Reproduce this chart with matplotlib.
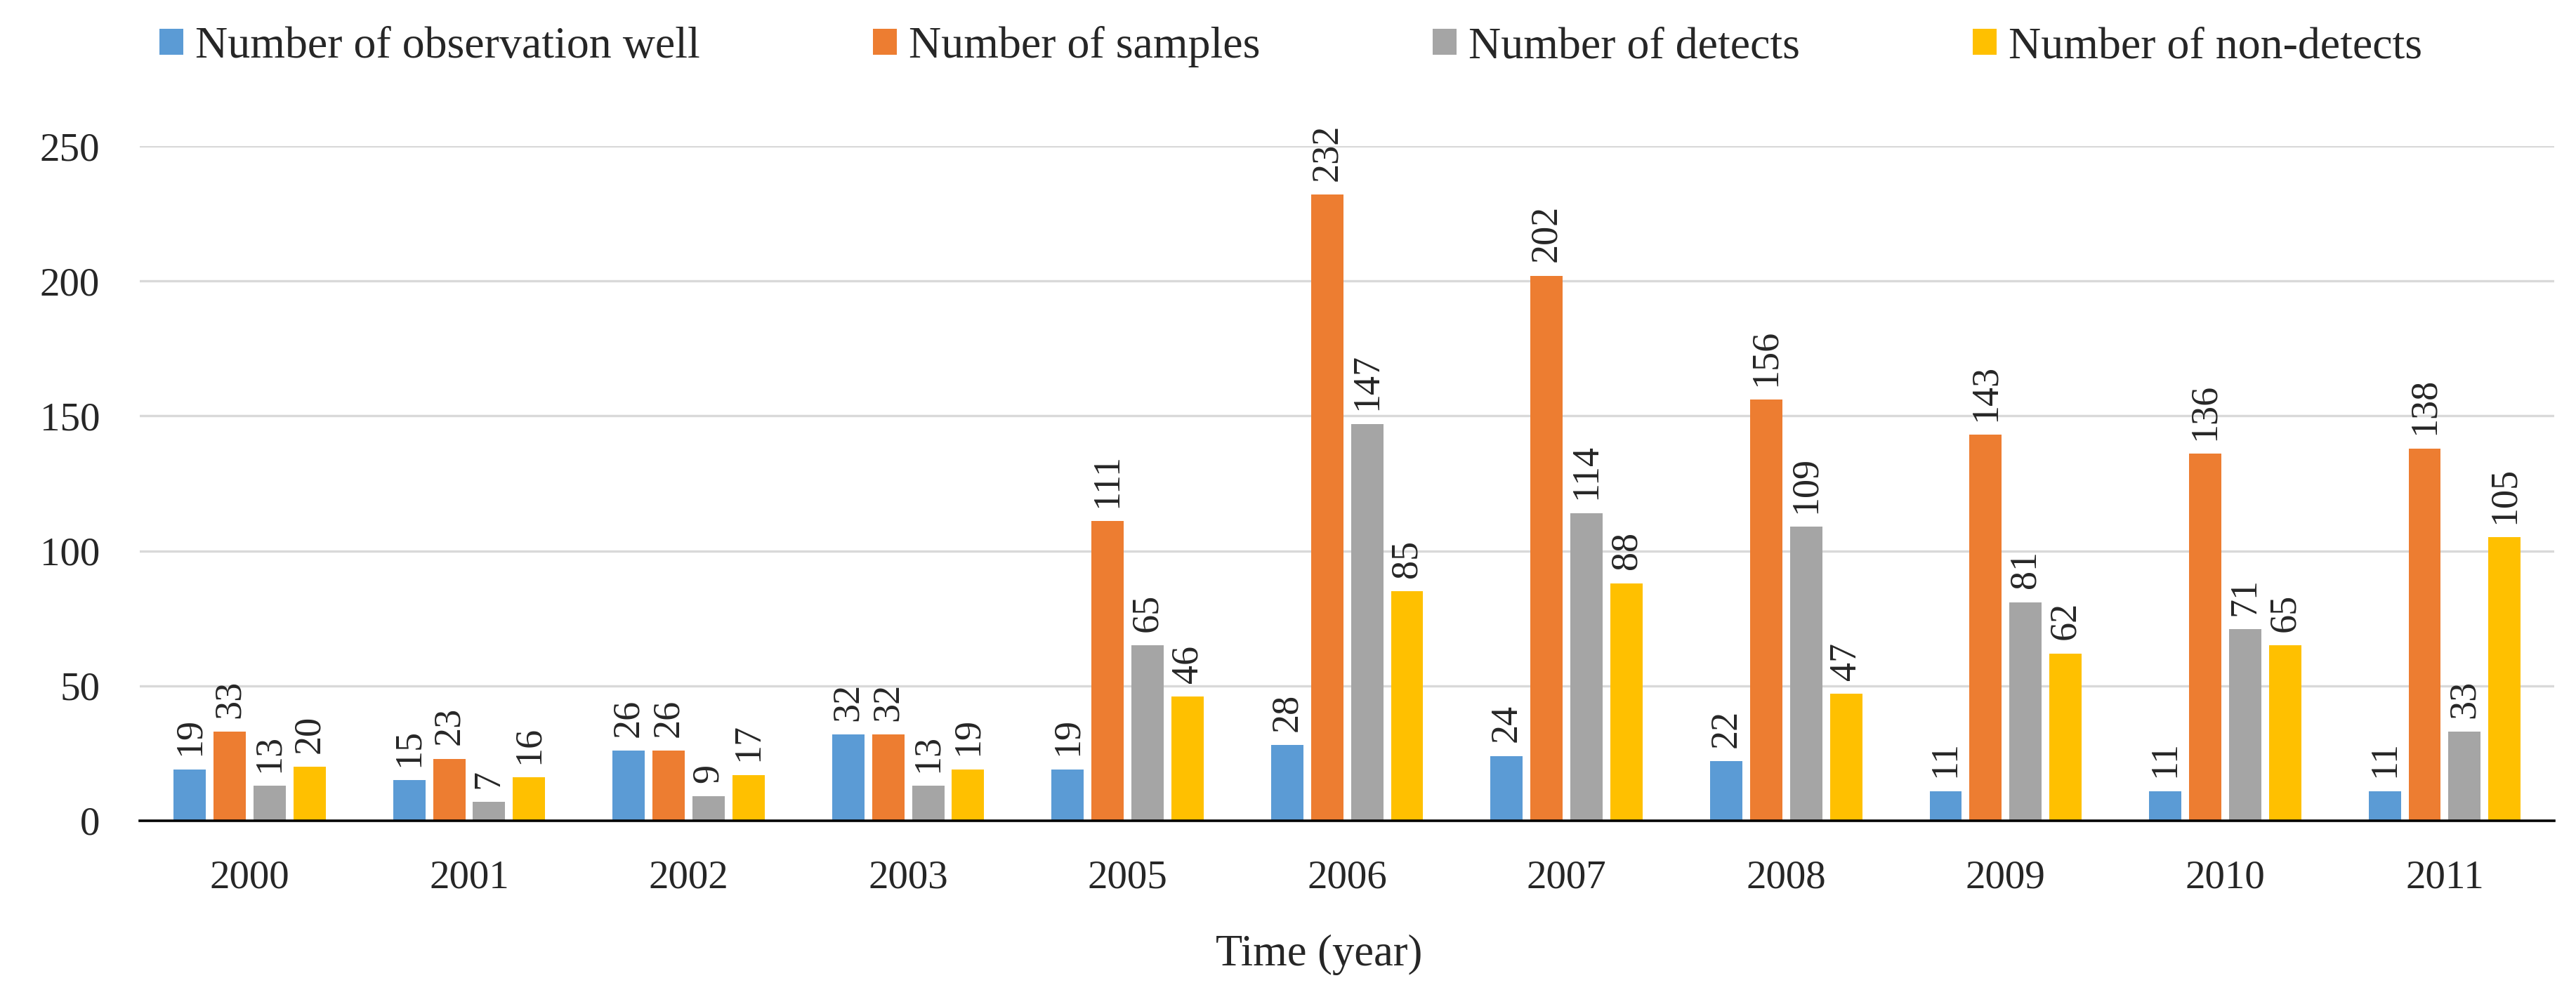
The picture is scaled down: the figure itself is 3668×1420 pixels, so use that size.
import numpy as np
import matplotlib
matplotlib.use("Agg")
import matplotlib.pyplot as plt

plt.rcParams["font.family"] = ["Liberation Serif", "DejaVu Serif"]

YEARS = ["2000", "2001", "2002", "2003", "2005", "2006", "2007", "2008", "2009", "2010", "2011"]
WELLS = [19, 15, 26, 32, 19, 28, 24, 22, 11, 11, 11]
SAMPLES = [33, 23, 26, 32, 111, 232, 202, 156, 143, 136, 138]
DETECTS = [13, 7, 9, 13, 65, 147, 114, 109, 81, 71, 33]
NON_DETECTS = [20, 16, 17, 19, 46, 85, 88, 47, 62, 65, 105]

SERIES = [
    ("Number of observation well", WELLS, "#5B9BD5"),
    ("Number of samples", SAMPLES, "#ED7D31"),
    ("Number of detects", DETECTS, "#A5A5A5"),
    ("Number of non-detects", NON_DETECTS, "#FFC000"),
]

fig = plt.figure(figsize=(36.68, 14.2), dpi=100)
ax = fig.add_axes([0.0543, 0.1768, 0.9373, 0.6767])

x = np.arange(len(YEARS))
step = 0.182
width = 0.147
for i, (name, vals, color) in enumerate(SERIES):
    pos = x + (i - 1.5) * step
    bars = ax.bar(pos, vals, width=width, color=color, label=name, zorder=3)
    ax.bar_label(bars, labels=[str(v) for v in vals], rotation=90, padding=14,
                 fontsize=39, color="#262626")

ax.set_xlim(-0.5, len(YEARS) - 0.5)
ax.set_ylim(0, 250)
ax.set_yticks([0, 50, 100, 150, 200, 250])
ax.set_xticks(x)
ax.set_xticklabels(YEARS)
ax.tick_params(axis="y", length=0, pad=41, labelsize=41, labelcolor="#262626")
ax.tick_params(axis="x", length=0, pad=40, labelsize=41, labelcolor="#262626")
ax.yaxis.grid(True, color="#D9D9D9", linewidth=2.4, zorder=0)
for side in ["top", "right", "left"]:
    ax.spines[side].set_visible(False)
ax.spines["bottom"].set_color("black")
ax.spines["bottom"].set_linewidth(2.6)
ax.spines["bottom"].set_zorder(4)

fig.text(0.512, 0.042, "Time (year)", ha="center", va="center", fontsize=45, color="#262626")

fig.legend(loc="center left", bbox_to_anchor=(0.0619, 0.953), ncol=4, frameon=False,
           fontsize=46, handlelength=0.53, handleheight=0.5, handletextpad=0.27,
           columnspacing=3.85, borderaxespad=0, borderpad=0, labelcolor="#262626")

fig.savefig("out.png", dpi=100)
